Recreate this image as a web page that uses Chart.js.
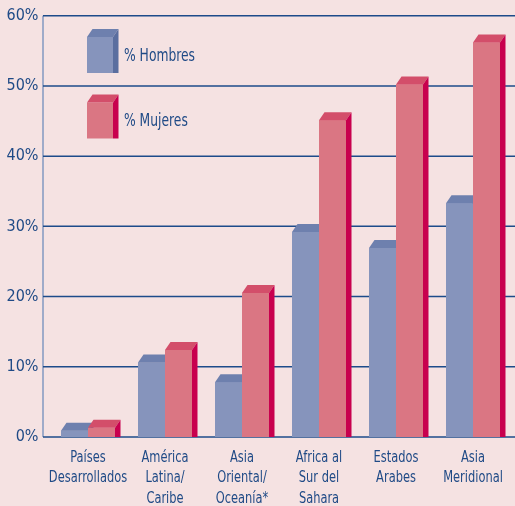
<!DOCTYPE html>
<html>
<head>
<meta charset="utf-8">
<script src="https://cdn.jsdelivr.net/npm/chart.js@4"></script>
<style>
  body { margin: 0; background: #f5e2e2; }
  #chartBox { width: 515px; height: 506px; }
</style>
</head>
<body>
<div id="chartBox"><canvas id="regionChart"></canvas></div>
<script>
const regions = [
  ["Países", "Desarrollados"],
  ["América", "Latina/", "Caribe"],
  ["Asia", "Oriental/", "Oceanía*"],
  ["Africa al", "Sur del", "Sahara"],
  ["Estados", "Arabes"],
  ["Asia", "Meridional"],
];
const hombres = [0.9, 10.6, 7.8, 29.2, 26.9, 33.3];
const mujeres = [1.3, 12.4, 20.5, 45.1, 50.2, 56.2];
const yTicks = [0, 10, 20, 30, 40, 50, 60];

const textColor = "#1f4a86";
const fontFamily = "'DejaVu Sans Condensed', 'DejaVu Sans', sans-serif";
const depthX = 5.5;
const depthY = 8;
const axisX = 43;

// colores: frente, arriba, lado
const blueFaces = ["#8694bc", "#6e80ae", "#5a6e9f"];
const pinkFaces = ["#da7683", "#d34e6a", "#c8004e"];

function drawTop(ctx, left, right, top, color) {
  ctx.fillStyle = color;
  ctx.beginPath();
  ctx.moveTo(left, top);
  ctx.lineTo(left + depthX, top - depthY);
  ctx.lineTo(right + depthX, top - depthY);
  ctx.lineTo(right, top);
  ctx.closePath();
  ctx.fill();
}

function drawSide(ctx, right, top, bottom, color) {
  ctx.fillStyle = color;
  ctx.beginPath();
  ctx.moveTo(right, top);
  ctx.lineTo(right + depthX, top - depthY);
  ctx.lineTo(right + depthX, bottom);
  ctx.lineTo(right, bottom);
  ctx.closePath();
  ctx.fill();
}

// texto estrecho (la fuente original es muy condensada)
function narrowText(ctx, text, x, y, size, squeeze, align) {
  ctx.save();
  ctx.font = size + "px " + fontFamily;
  ctx.fillStyle = textColor;
  ctx.textBaseline = "middle";
  ctx.textAlign = align;
  ctx.translate(x, y);
  ctx.scale(squeeze, 1);
  ctx.fillText(text, 0, 0);
  ctx.restore();
}

// fondo, lineas de la cuadricula y eje
const backgroundPlugin = {
  id: "backgroundPlugin",
  beforeDraw(chart) {
    const ctx = chart.ctx;
    const yScale = chart.scales.y;
    ctx.save();
    ctx.fillStyle = "#f5e2e2";
    ctx.fillRect(0, 0, chart.width, chart.height);
    ctx.strokeStyle = "#9fabc9";
    ctx.lineWidth = 2;
    ctx.beginPath();
    ctx.moveTo(axisX, yScale.getPixelForValue(60));
    ctx.lineTo(axisX, yScale.getPixelForValue(0));
    ctx.stroke();
    ctx.strokeStyle = "#1d4b8a";
    ctx.lineWidth = 1.5;
    yTicks.forEach((v) => {
      const y = yScale.getPixelForValue(v);
      ctx.beginPath();
      ctx.moveTo(axisX, y);
      ctx.lineTo(chart.width, y);
      ctx.stroke();
    });
    ctx.restore();
  },
};

// barras en 3D: frente, techo y lado por cada categoria
const boxPlugin = {
  id: "boxPlugin",
  afterDatasetsDraw(chart) {
    const ctx = chart.ctx;
    const faces = [blueFaces, pinkFaces];
    ctx.save();
    for (let i = 0; i < regions.length; i++) {
      for (let d = 0; d < chart.data.datasets.length; d++) {
        const bar = chart.getDatasetMeta(d).data[i];
        const p = bar.getProps(["x", "y", "base", "width"], true);
        const left = p.x - p.width / 2;
        const right = p.x + p.width / 2;
        bar.draw(ctx);
        drawTop(ctx, left, right, p.y, faces[d][1]);
        drawSide(ctx, right, p.y, p.base, faces[d][2]);
      }
    }
    ctx.restore();
  },
};

// etiquetas de categorias bajo el eje
const labelPlugin = {
  id: "labelPlugin",
  afterDraw(chart) {
    const ctx = chart.ctx;
    const xScale = chart.scales.x;
    const base = chart.chartArea.bottom;
    regions.forEach((lines, i) => {
      const x = xScale.getPixelForTick(i);
      lines.forEach((line, k) => {
        narrowText(ctx, line, x, base + 20.5 + k * 20.5, 15.5, 0.82, "center");
      });
    });
  },
};

// leyenda con cajas en 3D
const legendPlugin = {
  id: "legendPlugin",
  afterDraw(chart) {
    const ctx = chart.ctx;
    const faces = [blueFaces, pinkFaces];
    const rows = [37, 102.5];
    ctx.save();
    chart.data.datasets.forEach((ds, d) => {
      const top = rows[d];
      const left = 87;
      const right = 113;
      const bottom = top + 36;
      ctx.fillStyle = faces[d][0];
      ctx.fillRect(left, top, right - left, bottom - top);
      drawTop(ctx, left, right, top, faces[d][1]);
      drawSide(ctx, right, top, bottom, faces[d][2]);
      narrowText(ctx, ds.label, 124, top + 19, 18.5, 0.74, "left");
    });
    ctx.restore();
  },
};

const ctx = document.getElementById("regionChart").getContext("2d");
const regionChart = new Chart(ctx, {
  type: "bar",
  data: {
    labels: regions,
    datasets: [
      {
        label: "% Hombres",
        data: hombres,
        backgroundColor: blueFaces[0],
        borderWidth: 0,
      },
      {
        label: "% Mujeres",
        data: mujeres,
        backgroundColor: pinkFaces[0],
        borderWidth: 0,
      },
    ],
  },
  options: {
    responsive: true,
    maintainAspectRatio: false,
    animation: false,
    categoryPercentage: 54 / 77,
    barPercentage: 1,
    layout: {
      padding: { top: 15.7, right: 3.5, left: 0, bottom: 0 },
    },
    plugins: {
      legend: { display: false },
      tooltip: { enabled: false },
    },
    scales: {
      x: {
        grid: { display: false, drawTicks: false },
        border: { display: false },
        ticks: { display: false },
        afterFit: (scale) => {
          scale.height = 69;
          scale.paddingLeft = 0;
          scale.paddingRight = 0;
        },
      },
      y: {
        min: 0,
        max: 60,
        grid: { display: false, drawTicks: false },
        border: { display: false },
        ticks: {
          stepSize: 10,
          color: textColor,
          padding: 11,
          font: { family: fontFamily, size: 16 },
          callback: (v) => v + "%",
        },
        afterFit: (scale) => {
          scale.width = 49.5;
          scale.paddingTop = 0;
          scale.paddingBottom = 0;
        },
      },
    },
  },
  plugins: [backgroundPlugin, boxPlugin, labelPlugin, legendPlugin],
});
</script>
</body>
</html>
